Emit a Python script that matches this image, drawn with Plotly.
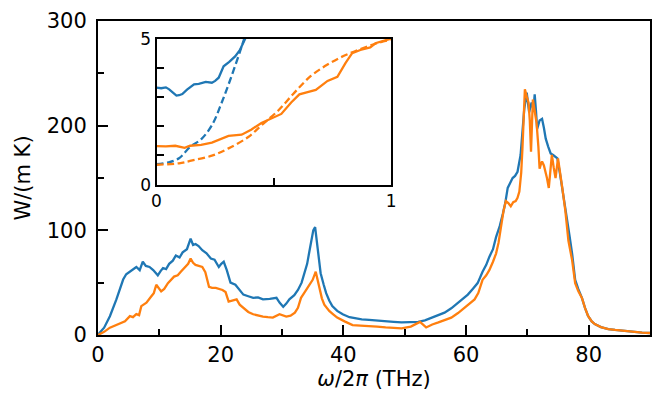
import plotly.graph_objects as go

# ---- main spectrum (x in THz, y in W/(m K)) ----
blue_x = [0, 0.3, 1, 1.94, 3.0, 4.1, 4.6, 5.2, 5.7, 6.25,
          6.8, 7.3, 7.8, 8.4, 9.0, 9.75, 10.2, 10.6, 11.1, 11.6,
          12.2, 12.7, 13.3, 13.8, 14.5, 15.1, 15.5, 15.9, 16.4, 17.0,
          17.7, 18.4, 19.0, 19.7, 20.1, 20.5, 21.0, 21.6, 22.4, 23.0,
          23.7, 24.5, 25.3, 26.1, 26.9, 28.0, 29.1, 29.6, 30.2, 30.7,
          31.2, 32.0, 32.6, 33.2, 33.7, 34.1, 34.5, 35.1, 35.4, 35.8,
          36.3, 36.8, 37.2, 37.7, 38.2, 39.0, 39.9, 41.0, 42.0, 43.0,
          44.2, 45.5, 46.9, 48.2, 49.5, 50.8, 52.2, 53.3, 54.4, 55.5,
          56.5, 57.6, 58.7, 59.5, 60.3, 61.1, 61.9, 62.7, 63.3, 63.8,
          64.4, 64.9, 65.5, 66.0, 66.4, 66.8, 67.2, 67.6, 68.0, 68.4,
          68.9, 69.2, 69.5, 69.9, 70.1, 70.3, 70.5, 70.7, 71.0, 71.2,
          71.4, 71.6, 72.0, 72.4, 72.7, 73.0, 73.4, 73.8, 74.2, 74.6,
          74.9, 75.3, 75.7, 76.1, 76.5, 76.9, 77.3, 77.8, 78.3, 78.9,
          79.4, 79.9, 80.5, 81.0, 82.0, 83.2, 84.3, 85.4, 86.5, 87.5,
          88.7, 90]
blue_y = [0, 2.5, 7, 18, 34, 53, 58, 60.5, 63, 65,
          62, 70, 66, 65, 62, 57, 61, 64, 63, 68,
          71, 76, 74, 79, 82, 92, 86, 87, 85, 81,
          78, 73, 72, 65, 68, 70, 62, 50, 48, 44,
          38.6, 37, 35.5, 36, 34, 34.5, 35.5, 31, 27, 30,
          34, 38, 43, 50, 59, 68, 81, 100, 103, 81,
          59, 48, 40, 33, 27.6, 23, 19.8, 17, 15.7, 15,
          14.4, 14, 13.5, 12.5, 12, 12.5, 12.5, 14, 16.6, 18.5,
          21.4, 25.5, 30.8, 34.5, 38.6, 44, 49.6, 60.5, 67, 74.6,
          82, 93.5, 104, 115.5, 126, 140.5, 146, 150, 152, 156,
          172, 195, 216, 231.6, 220, 212.7, 218, 222, 215, 230,
          215, 197, 205, 206.5, 198, 187.6, 180, 173.5, 172, 170,
          168.8, 155, 140.5, 125, 109, 94, 77.8, 52.7, 44, 35.5,
          26, 18.2, 13, 10.4, 7.5, 5.6, 4.8, 4.1, 3.2, 2.5,
          2.2, 1.9]

orange_x = [0, 0.3, 1.0, 1.94, 2.7, 3.55, 4.4, 5.2, 5.7, 6.25,
            6.7, 7.06, 7.9, 8.7, 9.1, 9.5, 10.3, 10.8, 11.4, 12.4,
            13.0, 13.5, 14.3, 14.7, 15.1, 15.5, 15.9, 16.5, 17.0, 17.5,
            18.1, 18.6, 19.2, 20.3, 20.8, 21.3, 22.0, 22.6, 23.1, 23.7,
            24.5, 25.3, 26.1, 26.9, 27.7, 28.5, 29.6, 30.7, 31.4, 32.1,
            32.6, 33.1, 33.6, 34.2, 34.6, 35.0, 35.5, 35.8, 36.1, 36.5,
            36.9, 37.3, 37.7, 38.3, 39.0, 40.2, 41.5, 42.8, 44.2, 45.5,
            46.9, 48.2, 49.5, 51.0, 52.5, 53.5, 54.5, 55.5, 56.5, 57.6,
            58.7, 59.8, 60.6, 61.4, 62.0, 62.7, 63.3, 63.8, 64.4, 64.9,
            65.3, 65.7, 66.1, 66.5, 66.9, 67.3, 67.7, 68.1, 68.4, 68.7,
            69.0, 69.2, 69.4, 69.6, 69.9, 70.2, 70.4, 70.6, 70.9, 71.2,
            71.5, 71.8, 72.0, 72.2, 72.4, 72.7, 73.0, 73.2, 73.5, 73.8,
            74.0, 74.3, 74.6, 75.0, 75.3, 75.7, 76.2, 76.7, 77.3, 77.8,
            78.3, 78.9, 79.4, 79.9, 80.5, 81.0, 82.0, 83.2, 84.3, 85.4,
            86.5, 87.5, 88.7, 90]
orange_y = [0, 1, 3, 7, 9, 11, 13, 18, 17, 20,
            19, 27.6, 30.8, 37, 40, 48, 41.7, 44, 49.6, 55.8,
            57, 60.5, 65, 68, 73, 69, 67, 66, 65, 60,
            46, 45, 45, 43, 41, 32, 33, 34, 29, 26,
            22, 19.8, 18.5, 17.6, 17, 16.6, 19.8, 17.6, 18.5, 21.4,
            26, 35.5, 40, 46, 49, 52.7, 60.5, 52, 43, 35,
            29, 26, 23, 20, 16.6, 13, 9.4, 9, 8.8, 8,
            7.2, 6.8, 6.3, 8, 12.5, 7.2, 10, 12, 14, 16.6,
            21, 26, 30, 34, 40, 52.7, 57, 62, 70, 77.8,
            88, 103, 118, 128, 126, 123, 127, 128, 131, 137,
            155, 178, 205, 234.7, 228, 222, 205, 175, 225, 215,
            203, 180, 159, 163, 165.7, 162, 156, 150, 140.5, 160,
            172, 160, 150, 168.8, 158, 140.5, 118.6, 90, 71.5, 49.6,
            42, 35.5, 26, 18.2, 13, 10.4, 7.5, 5.6, 4.8, 4.1,
            3.2, 2.5, 2.2, 1.9]

# ---- inset (low-frequency region) ----
in_blue_x = [0, 0.02, 0.04, 0.054, 0.07, 0.085, 0.096, 0.11, 0.13, 0.16,
             0.18, 0.21, 0.236, 0.25, 0.265, 0.286, 0.31, 0.335, 0.355, 0.377, 0.39]
in_blue_y = [3.32, 3.3, 3.33, 3.26, 3.15, 3.05, 3.06, 3.1, 3.25, 3.43,
             3.45, 3.52, 3.49, 3.55, 3.66, 4.05, 4.2, 4.39, 4.6, 4.95, 5.2]
in_blue_fit_x = [0, 0.05, 0.096, 0.143, 0.19, 0.236, 0.278, 0.32, 0.363, 0.39]
in_blue_fit_y = [0.70, 0.76, 0.90, 1.29, 1.55, 2.03, 2.81, 3.72, 4.73, 5.4]
in_orange_x = [0, 0.04, 0.08, 0.12, 0.143, 0.19, 0.236, 0.27, 0.307, 0.363,
               0.405, 0.447, 0.489, 0.532, 0.574, 0.609, 0.644, 0.679, 0.729, 0.771,
               0.806, 0.834, 0.869, 0.911, 0.933, 0.968, 1.0]
in_orange_y = [1.32, 1.31, 1.33, 1.26, 1.33, 1.36, 1.44, 1.55, 1.67, 1.71,
               1.89, 2.11, 2.25, 2.42, 2.81, 3.09, 3.17, 3.24, 3.55, 3.69,
               4.17, 4.5, 4.61, 4.7, 4.84, 4.93, 5.0]
in_orange_fit_x = [0, 0.096, 0.143, 0.236, 0.307, 0.391, 0.447, 0.518, 0.588,
                   0.658, 0.729, 0.799, 0.869, 0.94, 1.0]
in_orange_fit_y = [0.68, 0.73, 0.81, 0.99, 1.24, 1.63, 2.03, 2.53, 3.15,
                   3.72, 4.11, 4.41, 4.64, 4.84, 4.96]

main_xticks = [0, 20, 40, 60, 80]
main_yticks = [0, 100, 200, 300]
inset_xticks = [0, 0.5, 1]
inset_xlabels = ["0", "", "1"]
inset_yticks = [0, 1, 2, 3, 4, 5]
inset_ylabels = ["0", "", "", "", "", "5"]

BLUE = "#1f77b4"
ORANGE = "#ff7f0e"
FONT = "DejaVu Sans"
LW = 2.3

fig = go.Figure()
fig.add_trace(go.Scatter(x=blue_x, y=blue_y, mode="lines",
                         line=dict(color=BLUE, width=LW), xaxis="x", yaxis="y"))
fig.add_trace(go.Scatter(x=orange_x, y=orange_y, mode="lines",
                         line=dict(color=ORANGE, width=LW), xaxis="x", yaxis="y"))
fig.add_trace(go.Scatter(x=in_blue_x, y=in_blue_y, mode="lines",
                         line=dict(color=BLUE, width=LW), xaxis="x2", yaxis="y2"))
fig.add_trace(go.Scatter(x=in_blue_fit_x, y=in_blue_fit_y, mode="lines",
                         line=dict(color=BLUE, width=LW, dash="7px,3.5px", shape="spline"),
                         xaxis="x2", yaxis="y2"))
fig.add_trace(go.Scatter(x=in_orange_x, y=in_orange_y, mode="lines",
                         line=dict(color=ORANGE, width=LW), xaxis="x2", yaxis="y2"))
fig.add_trace(go.Scatter(x=in_orange_fit_x, y=in_orange_fit_y, mode="lines",
                         line=dict(color=ORANGE, width=LW, dash="7px,3.5px", shape="spline"),
                         xaxis="x2", yaxis="y2"))

axis_common = dict(showgrid=False, zeroline=False, showline=True, linecolor="black",
                   linewidth=2, mirror=True, ticks="inside", tickcolor="black",
                   tickwidth=1.8)

fig.update_layout(
    width=664, height=396,
    margin=dict(l=98, r=9, t=17, b=60),
    paper_bgcolor="white", plot_bgcolor="white",
    showlegend=False,
    font=dict(family=FONT, size=21, color="black"),
    xaxis=dict(**axis_common, range=[0, 90], tickvals=main_xticks, ticklen=10,
               domain=[0, 1], anchor="y",
               minor=dict(ticks="inside", ticklen=6, tickwidth=1.5, dtick=10, tick0=0,
                          tickcolor="black", showgrid=False),
               title=dict(text="<i>ω</i>/2<i>π</i> (THz)", standoff=5,
                          font=dict(size=21))),
    yaxis=dict(**axis_common, range=[0, 300], tickvals=main_yticks, ticklen=10,
               domain=[0, 1], anchor="x", ticklabelstandoff=5,
               minor=dict(ticks="inside", ticklen=6, tickwidth=1.5, dtick=50, tick0=0,
                          tickcolor="black", showgrid=False),
               title=dict(text="W/(m K)", standoff=10, font=dict(size=21))),
    xaxis2=dict(**axis_common, range=[0, 1], tickvals=inset_xticks, ticktext=inset_xlabels,
                ticklen=7, domain=[0.106, 0.531], anchor="y2",
                tickfont=dict(size=17)),
    yaxis2=dict(**axis_common, range=[0, 5], tickvals=inset_yticks, ticktext=inset_ylabels,
                ticklen=7, domain=[0.479, 0.944], anchor="x2",
                tickfont=dict(size=17)),
)

fig.write_html("out.html")
